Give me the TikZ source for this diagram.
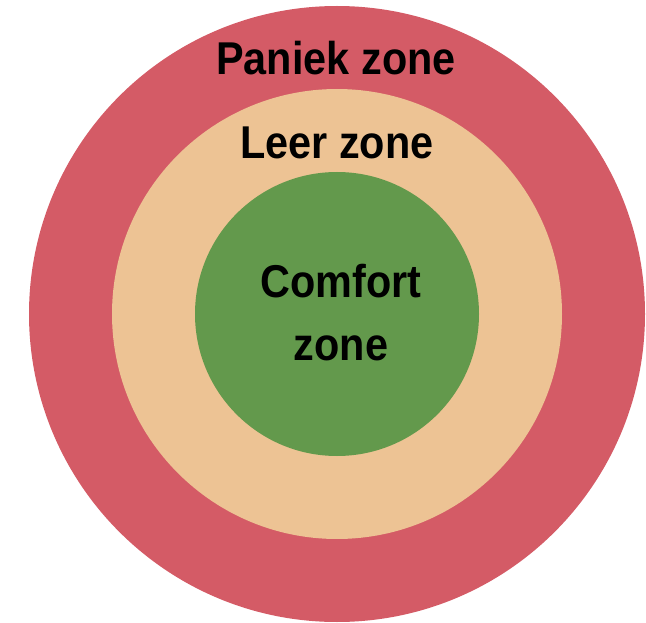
\documentclass[tikz,border=0pt]{standalone}
\usepackage{fontspec}
\setmainfont{Liberation Sans}
\usepackage{tikz}
\definecolor{paniekred}{HTML}{D45B66}
\definecolor{leerpeach}{HTML}{EDC394}
\definecolor{comfortgreen}{HTML}{63994C}
\newcommand{\zonefont}{\fontsize{46}{62}\selectfont\bfseries}
\tikzset{zonelabel/.style={anchor=base,inner sep=0pt,xscale=.9,font=\zonefont,align=center}}

\begin{document}
\begin{tikzpicture}[x=1pt,y=-1pt]

				\useasboundingbox (0,0) rectangle (646,623);

				\fill[paniekred]	(337,314) circle (308);
				\fill[leerpeach]	(337,314) circle (225);
				\fill[comfortgreen]	(337,314) circle (142);

				\node[zonelabel]	(paniek)	at (336,75) 		{Paniek zone};
				\node[zonelabel]	(leer)		at (337,159) 		{Leer zone};
				\node[zonelabel]	(comfort)	at (341,298) 		{Comfort};
				\node[zonelabel]	(comfortzone)	at (341,360) 		{zone};

		\end{tikzpicture}
\end{document}
